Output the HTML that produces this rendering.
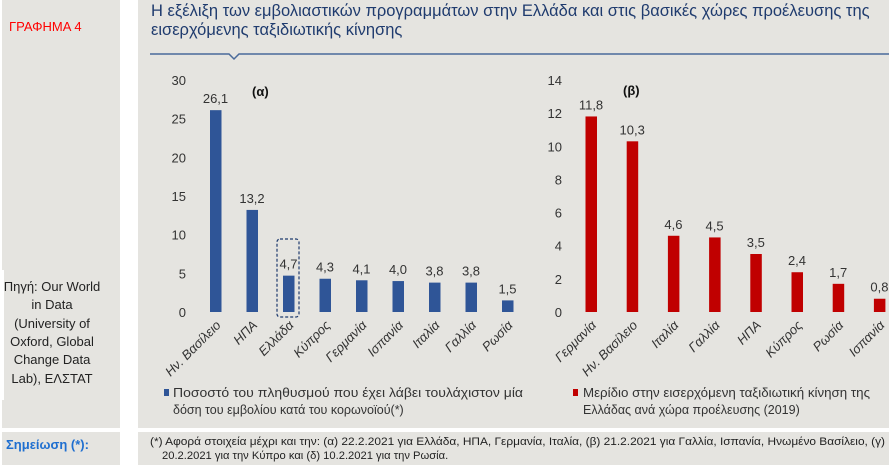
<!DOCTYPE html>
<html><head><meta charset="utf-8">
<style>
body{margin:0;width:889px;height:465px;background:#fff;font-family:"Liberation Sans",sans-serif;position:relative;overflow:hidden}
.p{position:absolute;background:#e5e4e0}
</style></head><body>
<div class="p" style="left:2px;top:0;width:118px;height:428px"></div>
<div class="p" style="left:138px;top:0;width:751px;height:428px"></div>
<div class="p" style="left:2px;top:432px;width:118px;height:33px"></div>
<div class="p" style="left:138px;top:432px;width:751px;height:33px"></div>
<svg width="889" height="465" style="position:absolute;left:0;top:0" id="svg" font-family="Liberation Sans, sans-serif">
<text x="9" y="31" fill="#f00" font-size="13">ΓΡΑΦΗΜΑ 4</text>
<text x="151" y="16" fill="#1f3b6e" font-size="16.5">Η εξέλιξη των εμβολιαστικών προγραμμάτων στην Ελλάδα και στις βασικές χώρες προέλευσης της</text>
<text x="151" y="35" fill="#1f3b6e" font-size="16.5">εισερχόμενης ταξιδιωτικής κίνησης</text>
<path d="M150 54 L229 54 L234 59 L239 54 L889 54" stroke="#4a6a9a" stroke-width="1.5" fill="none"/>
<g font-size="13" fill="#222" text-anchor="middle">
<text x="52" y="291">Πηγή: Our World</text><text x="52" y="309">in Data</text><text x="52" y="328">(University of</text><text x="52" y="346">Oxford, Global</text><text x="52" y="364">Change Data</text><text x="52" y="383">Lab), ΕΛΣΤΑΤ</text></g>
<rect x="0" y="270" width="4" height="130" fill="#fff"/>
<text x="6" y="449" fill="#1f6fd0" font-size="13" font-weight="bold">Σημείωση (*):</text>
<text x="150" y="445" fill="#222" font-size="11.2" textLength="735" lengthAdjust="spacingAndGlyphs">(*) Αφορά στοιχεία μέχρι και την: (α) 22.2.2021 για Ελλάδα, ΗΠΑ, Γερμανία, Ιταλία, (β) 21.2.2021 για Γαλλία, Ισπανία, Ηνωμένο Βασίλειο, (γ)</text>
<text x="162" y="459" fill="#222" font-size="11.2">20.2.2021 για την Κύπρο και (δ) 10.2.2021 για την Ρωσία.</text>
<text x="252" y="96" font-size="13" font-weight="bold" fill="#111">(α)</text>
<text x="623" y="95" font-size="13" font-weight="bold" fill="#111">(β)</text>
<rect x="277" y="239" width="22" height="78" rx="3" fill="none" stroke="#1f3b6e" stroke-dasharray="3,2" stroke-width="1.2"/>
<rect x="164" y="389" width="5" height="7" fill="#2f5597"/>
<text x="173" y="397" font-size="12.5" fill="#333" textLength="350" lengthAdjust="spacingAndGlyphs">Ποσοστό του πληθυσμού που έχει λάβει τουλάχιστον μία</text>
<text x="173" y="414" font-size="12.5" fill="#333">δόση του εμβολίου κατά του κορωνοϊού(*)</text>
<rect x="573" y="389" width="5" height="7" fill="#c00000"/>
<text x="583" y="397" font-size="12.5" fill="#333" textLength="287" lengthAdjust="spacingAndGlyphs">Μερίδιο στην εισερχόμενη ταξιδιωτική κίνηση της</text>
<text x="583" y="414" font-size="12.5" fill="#333">Ελλάδας ανά χώρα προέλευσης (2019)</text>
<g id="ca"></g><g id="cb"></g>
</svg>
<script>
const catsA=["Ην. Βασίλειο","ΗΠΑ","Ελλάδα","Κύπρος","Γερμανία","Ισπανία","Ιταλία","Γαλλία","Ρωσία"];
const valsA=[26.1,13.2,4.7,4.3,4.1,4.0,3.8,3.8,1.5];
const ticksA=[0,5,10,15,20,25,30];
const catsB=["Γερμανία","Ην. Βασίλειο","Ιταλία","Γαλλία","ΗΠΑ","Κύπρος","Ρωσία","Ισπανία"];
const valsB=[11.8,10.3,4.6,4.5,3.5,2.4,1.7,0.8];
const ticksB=[0,2,4,6,8,10,12,14];
const NS="http://www.w3.org/2000/svg";
function mk(g,tag,at,txt){const e=document.createElementNS(NS,tag);for(const k in at)e.setAttribute(k,at[k]);if(txt!=null)e.textContent=txt;g.appendChild(e);return e;}
function draw(gid,cats,vals,ticks,max,x0,step,axX,color,top){
 const g=document.getElementById(gid);const y0=312;
 const y=v=>y0-(v/max)*(y0-top);
 const x=i=>x0+i*step;
 ticks.forEach(t=>{const e=mk(g,'text',{x:axX,y:y(t)+5,'text-anchor':'end','font-size':13,fill:'#333'},t);
  
  });
 cats.forEach((c,i)=>{
  const b=mk(g,'rect',{x:x(i)-5.5,y:y(vals[i]),width:11.5,height:y0-y(vals[i]),fill:color});
  
  
  const l=mk(g,'text',{x:x(i),y:y(vals[i])-7,'text-anchor':'middle','font-size':13,fill:'#333'},vals[i].toFixed(1).replace('.',','));
  
  
  const t=mk(g,'text',{x:x(i)+6,y:326,'text-anchor':'end','font-size':13,fill:'#333','font-style':'italic',transform:`rotate(-45 ${x(i)+6} 326)`},c);
  
  
 });
}
draw('ca',catsA,valsA,ticksA,30,215.5,36.5,186,'#2f5597',80);
draw('cb',catsB,valsB,ticksB,14,591,41.2,562,'#c00000',80);
</script>
</body></html>
